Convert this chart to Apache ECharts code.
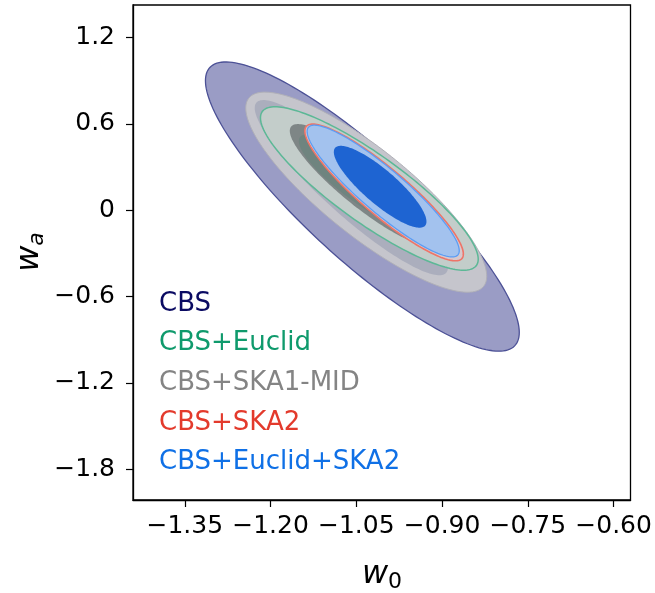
<!DOCTYPE html>
<html><head><meta charset="utf-8">
<script src="https://cdn.jsdelivr.net/npm/echarts@6/dist/echarts.min.js"></script>
<style>html,body{margin:0;padding:0;background:#fff}#c{width:655px;height:593px}</style>
</head><body><div id="c"></div>
<script>
// ---- data ----
const contourNames = ['CBS 2σ','CBS+SKA1-MID 2σ','CBS 1σ','CBS+Euclid 2σ','CBS+SKA1-MID 1σ','CBS+Euclid 1σ','CBS+SKA2 2σ','CBS+Euclid+SKA2 2σ','CBS+Euclid+SKA2 1σ'];
const centerW0 = [-1.0394,-1.0326,-1.0587,-1.0272,-1.0368,-1.0333,-1.0014,-1.0030,-1.0083];
const centerWa = [0.0250,0.1250,0.1564,0.1505,0.1738,0.1807,0.1230,0.1330,0.1626];
const halfW0   = [0.2744,0.2107,0.1689,0.1904,0.1295,0.1172,0.1386,0.1330,0.0810];
const halfWa   = [1.0044,0.6950,0.6082,0.5675,0.4240,0.3475,0.4747,0.4575,0.2843];
const corrW0Wa = [-0.87,-0.84,-0.91,-0.865,-0.89,-0.86,-0.90,-0.905,-0.85];
const legendLabels = ['CBS','CBS+Euclid','CBS+SKA1-MID','CBS+SKA2','CBS+Euclid+SKA2'];
const xTicks = [-1.35,-1.20,-1.05,-0.90,-0.75,-0.60];
const yTicks = [-1.8,-1.2,-0.6,0,0.6,1.2];

// ---- styles ----
const fills   = ['#9a9cc5','#c5c5cc','#abaebd','#c3cdca','#7e8686','#6f847f','#d8c8cc','#a3c2ee','#1e64d2'];
const strokes = ['#4c5196','#b0b0b8',null,'#5cb896',null,null,'#ee7468','#5b9df5',null];
const widths  = [1.3,1,0,1.5,0,0,1.6,1.3,0];
const legendColors = ['#0a0a62','#0f9a6c','#848484','#e33a2c','#0f70e6'];
const legendY = [304,343,383,423,462];
const FONT = 'DejaVu Sans';

const chart = echarts.init(document.getElementById('c'), null, {renderer:'canvas'});

function ellipseSeries(i){
  return {
    type:'custom', name:contourNames[i], coordinateSystem:'cartesian2d', clip:true, silent:true,
    data:[[centerW0[i], centerWa[i]]],
    renderItem:function(params, api){
      const N = 180, cx = centerW0[i], cy = centerWa[i], hx = halfW0[i], hy = halfWa[i], r = corrW0Wa[i];
      const s = Math.sqrt(1 - r*r);
      const pts = [];
      for (let k = 0; k < N; k++) {
        const t = 2*Math.PI*k/N;
        pts.push(api.coord([cx + hx*Math.cos(t), cy + hy*(r*Math.cos(t) + s*Math.sin(t))]));
      }
      return {type:'polygon', shape:{points:pts}, style:{fill:fills[i], stroke:strokes[i] || 'none', lineWidth:widths[i]}};
    }
  };
}

const fmtX = v => (v < 0 ? '\u2212' : '') + Math.abs(v).toFixed(2);
const fmtY = v => Math.abs(v) < 1e-9 ? '0' : (v < 0 ? '\u2212' : '') + Math.abs(v).toFixed(1);

const graphics = legendLabels.map((t, i) => ({
  type:'text', x:159, y:legendY[i], z:100,
  style:{text:t, fill:legendColors[i], font:'26px "DejaVu Sans"', align:'left', verticalAlign:'middle'}
}));
graphics.push({
  type:'text', x:382, y:575, z:100,
  style:{text:'{w|w}{s|0}', align:'center', verticalAlign:'middle',
    rich:{w:{fontFamily:FONT, fontStyle:'italic', fontSize:32, fill:'#000', lineHeight:36},
          s:{fontFamily:FONT, fontSize:22, fill:'#000', lineHeight:36, padding:[14,0,0,0]}}}
});
graphics.push({
  type:'text', x:30, y:252, rotation:Math.PI/2, z:100,
  style:{text:'{w|w}{s|a}', align:'center', verticalAlign:'middle',
    rich:{w:{fontFamily:FONT, fontStyle:'italic', fontSize:32, fill:'#000', lineHeight:36},
          s:{fontFamily:FONT, fontStyle:'italic', fontSize:22, fill:'#000', lineHeight:36, padding:[14,0,0,0]}}}
});

chart.setOption({
  animation:false,
  backgroundColor:'#fff',
  grid:{left:133, right:24.5, top:5, bottom:93, show:true, borderColor:'#000', borderWidth:1.3, backgroundColor:'transparent'},
  xAxis:{type:'value', min:-1.4405, max:-0.5705,
    axisLine:{show:true, onZero:false, lineStyle:{color:'#000', width:1.3}},
    axisTick:{show:true, length:7, customValues:xTicks, lineStyle:{color:'#000', width:1.2}},
    axisLabel:{show:true, customValues:xTicks, formatter:fmtX, color:'#000', fontSize:25, fontFamily:FONT, margin:14},
    splitLine:{show:false}},
  yAxis:{type:'value', min:-2.013, max:1.425,
    axisLine:{show:true, onZero:false, lineStyle:{color:'#000', width:1.3}},
    axisTick:{show:true, length:7, customValues:yTicks, lineStyle:{color:'#000', width:1.2}},
    axisLabel:{show:true, customValues:yTicks, formatter:fmtY, color:'#000', fontSize:25, fontFamily:FONT, margin:18},
    splitLine:{show:false}},
  series: contourNames.map((_, i) => ellipseSeries(i)),
  graphic: graphics
});
</script></body></html>
